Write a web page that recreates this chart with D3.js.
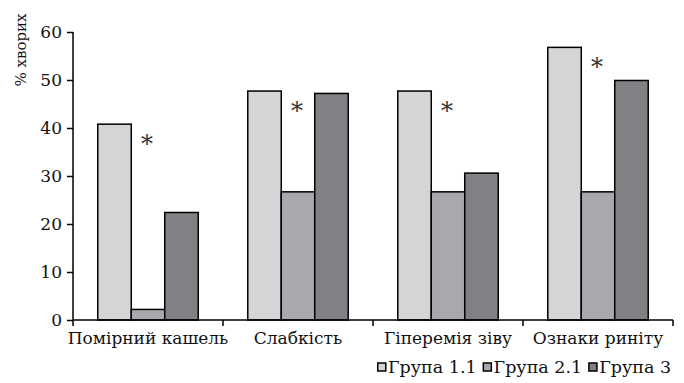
<!DOCTYPE html>
<html>
<head>
<meta charset="utf-8">
<script src="https://cdn.jsdelivr.net/npm/d3@7"></script>
<style>
  body { margin: 0; background: #fff; }
  svg text { font-family: "DejaVu Serif", "Liberation Serif", serif; }
  .axis path, .axis line { stroke: #000; stroke-width: 1.5; }
  .axis text { font-size: 17px; fill: #111; }
</style>
</head>
<body>
<svg id="chart" width="684" height="383"></svg>
<script>
const categories = ["Помірний кашель", "Слабкість", "Гіперемія зіву", "Ознаки риніту"];
const groups = ["Група 1.1", "Група 2.1", "Група 3"];
const group11 = [40.8, 47.7, 47.7, 56.8];
const group21 = [2.2, 26.7, 26.7, 26.7];
const group3 = [22.4, 47.2, 30.6, 49.9];
const significant = [true, true, true, true];
const yTicks = [0, 10, 20, 30, 40, 50, 60];

const colors = ["#d4d5d7", "#a8a9ac", "#808184"];
const margin = { top: 32, right: 11, bottom: 63, left: 73 };

const svg = d3.select("#chart");
const width = svg.attr("width") - margin.left - margin.right;
const height = svg.attr("height") - margin.top - margin.bottom;
const g = svg.append("g").attr("transform", `translate(${margin.left},${margin.top})`);

const rows = categories.map((c, i) => ({
  category: c,
  values: [group11[i], group21[i], group3[i]],
  star: significant[i],
}));

const x0 = d3.scaleBand().domain(categories).range([0, width]);
const x1 = d3.scaleBand().domain(groups).range([0, x0.bandwidth()]).paddingOuter(0.74);
const y = d3.scaleLinear().domain([0, 60]).range([height, 0]);

// y axis
g.append("g")
  .attr("class", "axis")
  .call(d3.axisLeft(y).tickValues(yTicks).tickSize(6).tickPadding(5).tickSizeOuter(0))
  .call((a) => a.attr("font-family", null).attr("font-size", null))
  .call((a) => a.select(".domain").attr("d", `M0,${height}V0`));

// bars
const groupG = g.selectAll(".grp")
  .data(rows)
  .join("g")
  .attr("class", "grp")
  .attr("transform", (d) => `translate(${x0(d.category)},0)`);

groupG.selectAll("rect")
  .data((d) => d.values.map((v, j) => ({ key: groups[j], value: v, j })))
  .join("rect")
  .attr("x", (d) => x1(d.key))
  .attr("y", (d) => y(d.value))
  .attr("width", x1.bandwidth())
  .attr("height", (d) => height - y(d.value))
  .attr("fill", (d) => colors[d.j])
  .attr("stroke", "#000")
  .attr("stroke-width", 1.5);

// significance marks
groupG.filter((d) => d.star)
  .append("text")
  .attr("x", x1(groups[1]) + x1.bandwidth() / 2 - 1)
  .attr("y", (d) => y(d.values[0]) + 28)
  .attr("text-anchor", "middle")
  .attr("font-size", 24)
  .attr("fill", "#333")
  .text("*");

// x axis
const xAxis = g.append("g")
  .attr("class", "axis")
  .attr("transform", `translate(0,${height})`);
xAxis.append("line").attr("x1", 0).attr("x2", width);
xAxis.selectAll(".tick-b")
  .data(d3.range(categories.length + 1))
  .join("line")
  .attr("x1", (i) => i * x0.step())
  .attr("x2", (i) => i * x0.step())
  .attr("y1", 0)
  .attr("y2", 6);
xAxis.selectAll(".lbl")
  .data(categories)
  .join("text")
  .attr("x", (d) => x0(d) + x0.bandwidth() / 2)
  .attr("y", 24)
  .attr("text-anchor", "middle")
  .text((d) => d);

// y label
svg.append("text")
  .attr("transform", "translate(26,50) rotate(-90)")
  .attr("text-anchor", "middle")
  .attr("font-size", 15)
  .attr("fill", "#111")
  .text("% хворих");

// legend
const legend = svg.append("g").attr("transform", "translate(377,373)");
let lx = 0;
groups.forEach((name, j) => {
  legend.append("rect")
    .attr("x", lx + 0.75)
    .attr("y", -10)
    .attr("width", 8)
    .attr("height", 8)
    .attr("fill", colors[j])
    .attr("stroke", "#000")
    .attr("stroke-width", 1.5);
  const t = legend.append("text")
    .attr("x", lx + 11)
    .attr("y", 0)
    .attr("font-size", 17.5)
    .attr("fill", "#111")
    .text(name);
  lx += 11 + t.node().getComputedTextLength() + 6;
});
</script>
</body>
</html>
